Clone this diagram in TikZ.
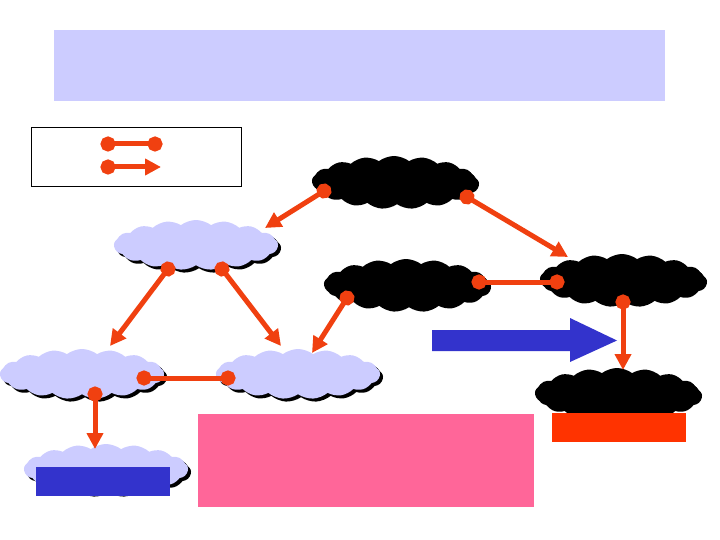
\documentclass[tikz,border=0pt]{standalone}
\usetikzlibrary{shapes.symbols,shadows,arrows.meta}
\definecolor{lav}{RGB}{204,204,255}
\definecolor{conn}{RGB}{240,64,16}
\definecolor{bluebar}{RGB}{51,51,204}
\definecolor{redbar}{RGB}{255,51,0}
\definecolor{pinkbox}{RGB}{255,102,153}
\tikzset{
  cloudbase/.style={shape=cloud, cloud puffs=17, cloud puff arc=75, aspect=3.3,
    minimum width=164pt, minimum height=50pt, inner sep=0pt,
    general shadow={fill=black, shadow xshift=3pt, shadow yshift=-3pt}},
  lcloud/.style={cloudbase, fill=lav},
  bcloud/.style={cloudbase, fill=black},
  link/.style={draw=conn, line width=5pt, {Circle[length=15pt,width=15pt]}-{Circle[length=15pt,width=15pt]}, shorten <=-7.5pt, shorten >=-7.5pt},
  dirlink/.style={draw=conn, line width=5pt, {Circle[length=15pt,width=15pt]}-{Triangle[length=16pt,width=16pt]}, shorten <=-7.5pt},
}
\begin{document}
\begin{tikzpicture}[x=1pt,y=-1pt]
\useasboundingbox (0,0) rectangle (720,540);
% banner
\node[fill=lav, minimum width=611pt, minimum height=71pt, inner sep=0pt] (banner) at (359.5,65.5) {};
% legend
\node[draw=black, line width=0.8pt, minimum width=210pt, minimum height=59pt, inner sep=0pt] (legend) at (136,156.5) {};
\coordinate (l1a) at (108,144); \coordinate (l1b) at (155,144);
\coordinate (l2a) at (108,167); \coordinate (l2b) at (161,167);
\draw[link] (l1a) -- (l1b);
\draw[dirlink] (l2a) -- (l2b);
% clouds
\node[bcloud] (A) at (394,181) {};
\node[lcloud] (B) at (196,245) {};
\node[bcloud] (C) at (406,284) {};
\node[bcloud] (D) at (622,279) {};
\node[lcloud] (E) at (82,374) {};
\node[lcloud] (F) at (298,374) {};
\node[lcloud] (G) at (106,469) {};
\node[bcloud] (H) at (617,393) {};
% bars
\node[fill=bluebar, minimum width=134pt, minimum height=29pt, inner sep=0pt] (bbar) at (103,481.5) {};
\node[fill=redbar, minimum width=134pt, minimum height=29pt, inner sep=0pt] (rbar) at (619,427.5) {};
\node[fill=pinkbox, minimum width=336pt, minimum height=93pt, inner sep=0pt] (pink) at (366,460.5) {};
% big blue arrow
\fill[bluebar] (432,330) -- (570,330) -- (570,318) -- (617,340.5) -- (570,362) -- (570,351) -- (432,351) -- cycle;
% connector endpoints
\coordinate (a1) at (324,191); \coordinate (b1) at (265,228);
\coordinate (a2) at (467,197); \coordinate (d1) at (568,257);
\coordinate (b2) at (168,269); \coordinate (e1) at (110,346);
\coordinate (b3) at (222,269); \coordinate (f1) at (281,346);
\coordinate (c1) at (347,298); \coordinate (f2) at (312,353);
\coordinate (c2) at (479,282); \coordinate (d2) at (557,282);
\coordinate (d3) at (623,302); \coordinate (h1) at (623,370);
\coordinate (e2) at (144,378); \coordinate (f3) at (228,378);
\coordinate (e3) at (95,394);  \coordinate (g1) at (95,449);
\draw[dirlink] (a1) -- (b1);
\draw[dirlink] (a2) -- (d1);
\draw[dirlink] (b2) -- (e1);
\draw[dirlink] (b3) -- (f1);
\draw[dirlink] (c1) -- (f2);
\draw[link] (c2) -- (d2);
\draw[dirlink] (d3) -- (h1);
\draw[link] (e2) -- (f3);
\draw[dirlink] (e3) -- (g1);
\end{tikzpicture}
\end{document}
